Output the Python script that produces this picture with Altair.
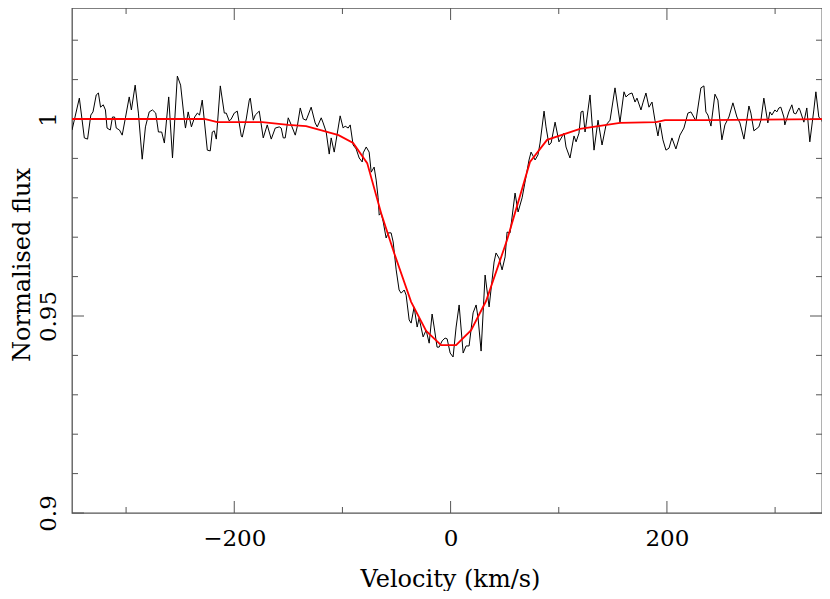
import altair as alt
import pandas as pd

# Observed spectrum (velocity in km/s, normalised flux)
velocity = [
    -350, -343.2, -338.6, -335.6, -332.6, -330.6, -327.6, -325.6, -323.6, -321.1,
    -319.1, -317.6, -314.6, -312.6, -310.6, -309.1, -306.1, -303.6, -300.6, -297.1,
    -295.1, -291.6, -288.6, -285.1, -282.1, -278.6, -275.6, -272.6, -270.1, -267.1,
    -264.6, -260.6, -257.1, -252.6, -249.6, -246.1, -245.1, -242.6, -239.6, -236.6,
    -234.1, -232.1, -229.6,
    -224.9, -222.2, -220.3, -218.5, -216.6, -212.9, -209.2, -207.4, -204.6, -202.8,
    -200.0, -197.2, -193.5, -192.6, -188.9, -186.1, -185.2, -182.4, -180.6, -176.9,
    -173.2, -169.5, -165.8, -162.1, -158.4, -156.6, -154.7, -152.9, -150.1, -147.3,
    -143.6, -141.8, -139.0, -136.2, -133.5, -128.9, -125.2, -123.3, -119.6, -117.8,
    -115.0, -112.2,
    -110.4, -107.6, -102.1, -99.3, -97.5, -94.7, -92.8, -90.1, -87.3, -84.5,
    -81.7, -80.8, -78.0, -75.3, -73.4, -70.7, -68.8, -67.0, -66.0, -64.2,
    -62.3, -59.6, -57.7, -55.0, -53.1, -50.3, -47.6, -45.7, -42.9, -41.1,
    -38.3, -36.5, -33.7, -30.9, -29.1, -25.4, -22.6, -19.8, -17.1, -15.2,
    -12.5, -10.6, -7.8, -5.1, -3.2, -0.4, 2.3, 5.1,
    7.9, 11.6, 14.3, 17.1, 20.8, 23.6, 25.4, 28.2, 31.9, 35.6,
    40.2, 42.0, 44.8, 47.6, 50.4, 52.2, 55.0, 59.6, 62.4, 66.1,
    68.8, 72.5, 74.4, 78.1, 80.8, 82.7, 86.4, 88.2, 91.0, 92.9,
    96.6, 100.2, 104.9, 106.7, 110.4, 114.1, 116.0, 118.7, 120.6,
    122.4, 124.3, 128.9, 132.6, 136.3, 140.0, 143.7, 147.4, 152.0, 156.6,
    160.3, 162.1, 164.9, 167.7, 170.5, 172.3, 176.0, 177.8, 180.6, 183.4,
    186.2, 188.9, 191.7, 193.6, 196.3, 199.1, 201.9, 204.6, 208.3, 212.0,
    215.7, 219.4, 222.2, 226.8, 231.4, 234.2, 236.0,
    237.9, 240.7, 244.4, 247.1, 250.8, 253.6, 257.3, 261.0, 264.7, 267.5,
    271.2, 275.8, 277.6, 280.4, 285.0, 286.9, 289.6, 293.3, 295.2, 297.0,
    299.8, 301.6, 303.5, 305.3, 308.1, 309.0, 312.7, 315.5, 317.3, 319.2,
    322.0, 322.9, 326.6, 329.3, 332.1, 335.8, 337.7, 340.4, 343.2, 346.0,
    348.7, 350.0,
]
flux = [
    0.9972, 1.0053, 0.9952, 0.9949, 1.0010, 1.0018, 1.0061, 1.0066, 1.0030, 1.0036,
    1.0023, 0.9977, 0.9972, 1.0005, 1.0005, 0.9977, 0.9972, 0.9959, 1.0003, 1.0056,
    1.0023, 1.0086, 1.0015, 0.9898, 0.9980, 1.0018, 1.0023, 1.0015, 0.9967, 0.9967,
    0.9939, 1.0056, 0.9901, 1.0109, 1.0086, 0.9997, 0.9977, 1.0018, 0.9980, 1.0005,
    1.0015, 1.0010, 1.0048,
    0.9921, 0.9919, 0.9967, 0.9970, 0.9949, 1.0084, 1.0015, 1.0015, 0.9995, 1.0000,
    1.0015, 1.0020, 0.9957, 0.9954, 1.0000, 1.0048, 1.0053, 0.9997, 1.0010, 1.0020,
    0.9952, 0.9985, 0.9949, 0.9977, 0.9980, 0.9977, 0.9952, 0.9952, 1.0003, 0.9985,
    0.9959, 0.9980, 1.0028, 1.0000, 0.9997, 1.0030, 0.9990, 0.9980, 1.0003, 0.9990,
    0.9967, 0.9911,
    0.9952, 0.9916, 1.0008, 0.9977, 0.9982, 0.9977, 0.9985, 0.9934, 0.9924, 0.9901,
    0.9891, 0.9914, 0.9929, 0.9916, 0.9865, 0.9878, 0.9845, 0.9800, 0.9756, 0.9761,
    0.9739, 0.9698, 0.9711, 0.9711, 0.9688, 0.9617, 0.9566, 0.9558, 0.9566, 0.9553,
    0.9490, 0.9482, 0.9523, 0.9472, 0.9495, 0.9447, 0.9464, 0.9431, 0.9505, 0.9472,
    0.9421, 0.9421, 0.9437, 0.9444, 0.9442, 0.9406, 0.9396, 0.9472,
    0.9528, 0.9406, 0.9424, 0.9424, 0.9508, 0.9528, 0.9495, 0.9411, 0.9604, 0.9523,
    0.9637, 0.9660, 0.9647, 0.9617, 0.9650, 0.9713, 0.9711, 0.9812, 0.9764, 0.9800,
    0.9840, 0.9896, 0.9916, 0.9896, 0.9909, 0.9939, 1.0020, 0.9980, 0.9934, 0.9939,
    0.9992, 0.9942, 0.9964, 0.9929, 0.9901, 0.9957, 0.9942, 0.9964, 1.0018,
    1.0020, 0.9967, 1.0061, 0.9921, 0.9997, 0.9934, 0.9985, 0.9997, 1.0079, 0.9992,
    1.0069, 1.0056, 1.0063, 1.0066, 1.0043, 1.0053, 1.0023, 1.0041, 1.0066, 1.0030,
    1.0043, 0.9997, 0.9957, 0.9990, 0.9947, 0.9921, 0.9926, 0.9952, 0.9924, 0.9959,
    0.9977, 1.0015, 1.0018, 0.9995, 1.0079, 1.0084, 1.0018,
    1.0010, 0.9982, 1.0063, 1.0048, 0.9947, 0.9985, 1.0005, 1.0041, 1.0005, 0.9990,
    0.9949, 1.0033, 1.0015, 0.9970, 0.9980, 0.9997, 1.0053, 0.9990, 1.0018, 1.0010,
    1.0023, 1.0018, 1.0028, 1.0030, 1.0005, 0.9985, 1.0018, 1.0036, 1.0015, 1.0013,
    1.0028, 1.0023, 0.9992, 1.0028, 0.9942, 1.0023, 1.0069, 1.0005, 0.9997, 0.9972,
    0.9977, 0.9985,
]

# Model profile (red)
model_velocity = [
    -350, -227.6, -215.6, -174.1, -150.1, -133.6, -117.6, -103.6, -90.1, -77.1,
    -64.2, -52.2, -36.5, -22.6, -8.8, 5.1, 19.0, 32.8, 52.2, 73.4,
    89.2, 119.6, 156.6, 189.9, 198.2, 236.0, 350,
]
model_flux = [
    1.0, 1.0, 0.9992, 0.9992, 0.9985, 0.9982, 0.9970, 0.9959, 0.9939, 0.9888,
    0.9761, 0.9660, 0.9536, 0.9462, 0.9426, 0.9426, 0.9464, 0.9538, 0.9693, 0.9891,
    0.9947, 0.9975, 0.9990, 0.9992, 0.9997, 0.9997, 1.0,
]

x_major = [-200, 0, 200]
x_minor = [-300, -100, 100, 300]
y_major = [0.9, 0.95, 1.0]
y_minor = [0.91, 0.92, 0.93, 0.94, 0.96, 0.97, 0.98, 0.99, 1.01, 1.02]

W, H = 750, 505
FONT = "DejaVu Serif"
AX = "#555555"
FS = 23
TFS = 24

xscale = alt.Scale(domain=[-350, -350 + W / 1.0817], nice=False, zero=False)
yscale = alt.Scale(domain=[0.9, 0.9 + H / 3940], nice=False, zero=False)

obs = pd.DataFrame({"v": velocity, "f": flux})
mod = pd.DataFrame({"v": model_velocity, "f": model_flux})

xaxis = alt.Axis(
    values=x_major, format="d", ticks=False, tickSize=0, domain=False, grid=False,
    labelFont=FONT, labelFontSize=FS, labelColor="black", labelPadding=32,
    labelBaseline="alphabetic", labelFlush=False,
    title="Velocity (km/s)", titleFont=FONT, titleFontSize=TFS, titleFontWeight="normal",
    titleColor="black", titleX=378, titleY=73, titleBaseline="alphabetic",
    titleAlign="center",
)
yaxis = alt.Axis(
    values=y_major, format="~r", ticks=False, tickSize=0, domain=False, grid=False,
    labelFont=FONT, labelFontSize=FS, labelColor="black", labelPadding=17,
    labelAngle=270, labelAlign="center", labelBaseline="alphabetic", labelFlush=False,
    title="Normalised flux", titleFont=FONT, titleFontSize=TFS, titleFontWeight="normal",
    titleColor="black", titleAngle=270, titleX=-43, titleY=H / 2 + 4,
    titleBaseline="alphabetic", titleAlign="center",
)

X = lambda: alt.X("v:Q", scale=xscale, axis=xaxis)
Y = lambda: alt.Y("f:Q", scale=yscale, axis=yaxis)

line_obs = alt.Chart(obs).mark_line(color="black", strokeWidth=1, clip=True).encode(
    x=X(), y=Y(), order="v:Q",
)
line_mod = alt.Chart(mod).mark_line(color="#ff0000", strokeWidth=1.8, clip=True).encode(
    x=X(), y=Y(), order="v:Q",
)


def xticks(vals, length):
    d = pd.DataFrame({"v": vals})
    base = alt.Chart(d).mark_rule(color=AX, strokeWidth=1)
    bottom = base.encode(x=X(), y=alt.value(H), y2=alt.value(H - length))
    top = base.encode(x=X(), y=alt.value(0), y2=alt.value(length))
    return [bottom, top]


def yticks(vals, length):
    d = pd.DataFrame({"f": vals})
    base = alt.Chart(d).mark_rule(color=AX, strokeWidth=1)
    left = base.encode(y=Y(), x=alt.value(0), x2=alt.value(length))
    right = base.encode(y=Y(), x=alt.value(W), x2=alt.value(W - length))
    return [left, right]


layers = (xticks(x_major, 12) + xticks(x_minor, 6)
          + yticks(y_major, 12) + yticks(y_minor, 6)
          + [line_obs, line_mod])

chart = alt.layer(*layers).properties(
    width=W, height=H,
    padding={"left": 64, "top": 0, "right": 0, "bottom": 78},
    autosize=alt.AutoSizeParams(type="none"),
    background="white",
).configure_view(stroke=AX, strokeWidth=1.3)

chart.save("out.html", embed_options={"renderer": "svg", "actions": False})
